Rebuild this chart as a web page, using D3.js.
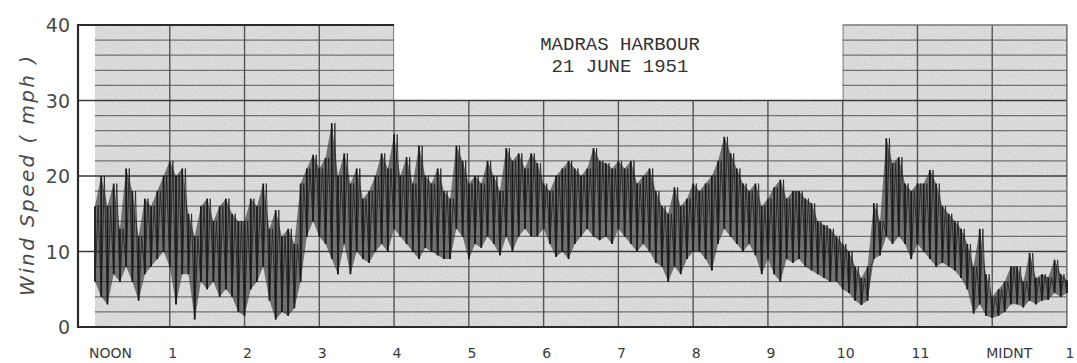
<!DOCTYPE html>
<html>
<head>
<meta charset="utf-8">
<script src="https://cdn.jsdelivr.net/npm/d3@7"></script>
<style>
  body { margin: 0; background: #fff; }
</style>
</head>
<body>
<div id="chart"></div>
<script>
// chart size
var width = 1077
var height = 363

// hour labels along the bottom (hours after noon)
var hourTicks = [0, 1, 2, 3, 4, 5, 6, 7, 8, 9, 10, 11, 12, 13]
var hourLabels = ["NOON", "1", "2", "3", "4", "5", "6", "7", "8", "9", "10", "11", "MIDNT", "1"]
var speedTicks = [0, 10, 20, 30, 40]

// gust trace, read every 5 minutes from noon: upper and lower swing (mph)
var stepMinutes = 5
var gustHigh = [16, 20, 16, 19, 13, 21, 18, 12, 17, 16, 18, 20,
  22, 20, 21, 15, 12, 16, 17, 14, 16, 17, 15, 14,
  14, 17, 16, 19, 13, 15.5, 12, 13, 11, 19, 21, 22.8, 21,
  22.4, 27, 20, 23, 19, 21, 17, 18, 20, 23, 21, 25.5,
  20, 22.5, 19, 24, 20, 19, 21, 18, 17, 24, 22, 19,
  20, 19, 22, 20, 18, 23.7, 22, 23, 21, 23, 21.7, 19,
  18, 20, 21, 22, 21, 20, 21, 23.7, 22,
  21.7, 21, 22, 21, 22, 19, 20, 21, 18, 16, 15, 18.5, 16, 17, 19,
  18, 19, 20, 22, 25.2, 23, 21, 19, 18, 19, 16, 17,
  18.5, 19.5, 17, 18, 18, 17, 16.4, 14, 13.5, 13, 12, 11,
  10, 8, 6.5, 8, 16.4, 14, 25, 21.7, 22.5, 19, 18, 19,
  19, 20.8, 19, 16, 15, 14, 13, 11, 8, 13, 7, 4,
  5, 6, 8, 8, 6, 9.8, 6.5, 7, 6.6, 8.9, 7, 6.2]
var gustLow = [6, 4, 3, 7, 6, 8, 6, 3.5, 7, 8, 9, 10,
  8, 3, 7, 7, 1, 6, 5, 6, 4, 5, 4, 2,
  1.5, 5, 6, 8, 3.5, 1, 2, 1.5, 2.5, 6, 12, 14, 12,
  11, 9, 7, 11, 7, 10, 9, 8.5, 10, 11, 10, 13,
  12, 11, 10, 9, 10.5, 10, 9.5, 9, 9, 13, 12, 9,
  11, 10.5, 12, 11, 9.5, 12, 10, 12, 13, 12, 12, 13,
  11, 9.3, 10, 9, 11, 12, 13, 12, 11.5,
  12, 11, 13, 12, 11, 10, 11, 10, 8.5, 8, 6, 8, 7, 9, 10,
  10, 9, 7.5, 11, 13, 12, 11, 10, 11, 9.5, 7, 9,
  7, 6, 9, 8.5, 9, 8, 7.5, 7, 6.5, 6, 6, 5,
  4.5, 3.5, 2.9, 3.5, 9, 9.5, 12, 11, 12, 11, 9, 11,
  10, 9, 8, 8.5, 8, 7.5, 6.5, 5, 1.8, 3, 1.5, 1.2,
  1.5, 2, 3, 3, 2.6, 3.5, 3, 3.5, 3.6, 4.5, 4, 4.5]

var svg = d3.select("#chart")
  .append("svg")
    .attr("width", width)
    .attr("height", height)

var x = d3.scaleLinear().domain([0, 13 * 60]).range([95, 1067])
var y = d3.scaleLinear().domain([0, 40]).range([327, 25])

// grey chart paper, with the title box cut out of the top
var boxLeft = x(4 * 60), boxRight = x(10 * 60)
var paper = "M" + x(0) + "," + y(40) + "H" + boxLeft + "V" + y(30) + "H" + boxRight +
  "V" + y(40) + "H" + x(780) + "V" + y(0) + "H" + x(0) + "Z"

var defs = svg.append("defs")
defs.append("clipPath").attr("id", "paper").append("path").attr("d", paper)

var speckle = defs.append("filter").attr("id", "speckle")
speckle.append("feTurbulence").attr("type", "fractalNoise").attr("baseFrequency", 0.9).attr("numOctaves", 2).attr("seed", 3)
speckle.append("feColorMatrix").attr("values", "0 0 0 0 0.4  0 0 0 0 0.4  0 0 0 0 0.4  0 0 0 -1.6 1.05")
speckle.append("feComposite").attr("in2", "SourceGraphic").attr("operator", "in")

svg.append("path").attr("d", paper).attr("fill", "#e0e0e0")
svg.append("path").attr("d", paper).attr("fill", "#e0e0e0").attr("filter", "url(#speckle)").attr("opacity", 0.45)

var grid = svg.append("g").attr("clip-path", "url(#paper)")

// fine horizontal rulings every 2 mph
grid.selectAll("line.minor")
  .data(d3.range(2, 40, 2).filter(d => d % 10))
  .join("line")
    .attr("x1", x(0)).attr("x2", x(780))
    .attr("y1", d => y(d)).attr("y2", d => y(d))
    .attr("stroke", "#707070")
    .attr("stroke-width", 1.3)

// hour rulings
grid.selectAll("line.hour")
  .data(hourTicks.slice(1))
  .join("line")
    .attr("x1", d => x(d * 60)).attr("x2", d => x(d * 60))
    .attr("y1", y(40)).attr("y2", y(0))
    .attr("stroke", "#555")
    .attr("stroke-width", 1.4)

// heavier lines at 10, 20, 30 run out to the axis
svg.selectAll("line.major")
  .data([10, 20, 30])
  .join("line")
    .attr("x1", 78).attr("x2", x(780))
    .attr("y1", d => y(d)).attr("y2", d => y(d))
    .attr("stroke", "#3a3a3a")
    .attr("stroke-width", 1.7)

// frame
svg.append("path")
  .attr("d", "M" + boxLeft + "," + y(40) + "H78V" + y(0) + "H" + x(780))
  .attr("fill", "none")
  .attr("stroke", "#2b2b2b")
  .attr("stroke-width", 2.2)
svg.append("path")
  .attr("d", "M" + boxRight + "," + y(40) + "H" + x(780) + "V" + y(0))
  .attr("fill", "none")
  .attr("stroke", "#777")
  .attr("stroke-width", 1.3)

// the trace: a dark band between the swings, with a stroke for every swing
var samples = gustHigh.map((h, i) => ({ t: i * stepMinutes, hi: h, lo: gustLow[i] }))

svg.append("path")
  .datum(samples)
  .attr("fill", "#262626")
  .attr("fill-opacity", 0.58)
  .attr("d", d3.area()
    .x(d => x(d.t))
    .y0(d => y(d.lo))
    .y1(d => y(d.hi)))

svg.append("g")
    .attr("stroke", "#1a1a1a")
    .attr("stroke-width", 1.8)
  .selectAll("line")
  .data(samples)
  .join("line")
    .attr("x1", d => x(d.t)).attr("x2", d => x(d.t))
    .attr("y1", d => y(d.lo)).attr("y2", d => y(d.hi))

var zig = []
samples.forEach(function(d, i) {
  zig.push([d.t, d.lo])
  if (i < samples.length - 1) zig.push([d.t + stepMinutes / 2, d.hi])
})

svg.append("path")
  .datum(zig)
  .attr("fill", "none")
  .attr("stroke", "#1e1e1e")
  .attr("stroke-width", 1)
  .attr("stroke-opacity", 0.8)
  .attr("d", d3.line().x(d => x(d[0])).y(d => y(d[1])))

// axis labels
svg.append("g")
    .attr("font-family", "DejaVu Sans, sans-serif")
    .attr("font-size", 19)
    .attr("fill", "#4a4a4a")
    .attr("text-anchor", "end")
  .selectAll("text")
  .data(speedTicks)
  .join("text")
    .attr("x", 70)
    .attr("y", d => y(d) + 7)
    .text(d => d)

svg.append("g")
    .attr("font-family", "DejaVu Sans, sans-serif")
    .attr("font-size", 14)
    .attr("fill", "#3a3a3a")
  .selectAll("text")
  .data(hourTicks)
  .join("text")
    .attr("x", (d, i) => hourLabels[i].length > 2 ? x(d * 60) - 6 : x(d * 60) + 3)
    .attr("y", 358)
    .attr("text-anchor", (d, i) => hourLabels[i].length > 2 ? "start" : "middle")
    .text((d, i) => hourLabels[i])

svg.append("text")
  .attr("transform", "translate(34," + y(20) + ") rotate(-90)")
  .attr("text-anchor", "middle")
  .attr("font-family", "DejaVu Sans, sans-serif")
  .attr("font-style", "italic")
  .attr("font-size", 20)
  .attr("fill", "#4a4a4a")
  .attr("textLength", 240)
  .text("Wind  Speed ( mph )")

// title
var title = svg.append("g")
  .attr("font-family", "Liberation Mono, monospace")
  .attr("font-size", 19)
  .attr("fill", "#333")
  .attr("text-anchor", "middle")
title.append("text").attr("x", 620).attr("y", 50).text("MADRAS HARBOUR")
title.append("text").attr("x", 620).attr("y", 72).text("21 JUNE 1951")
</script>
</body>
</html>
